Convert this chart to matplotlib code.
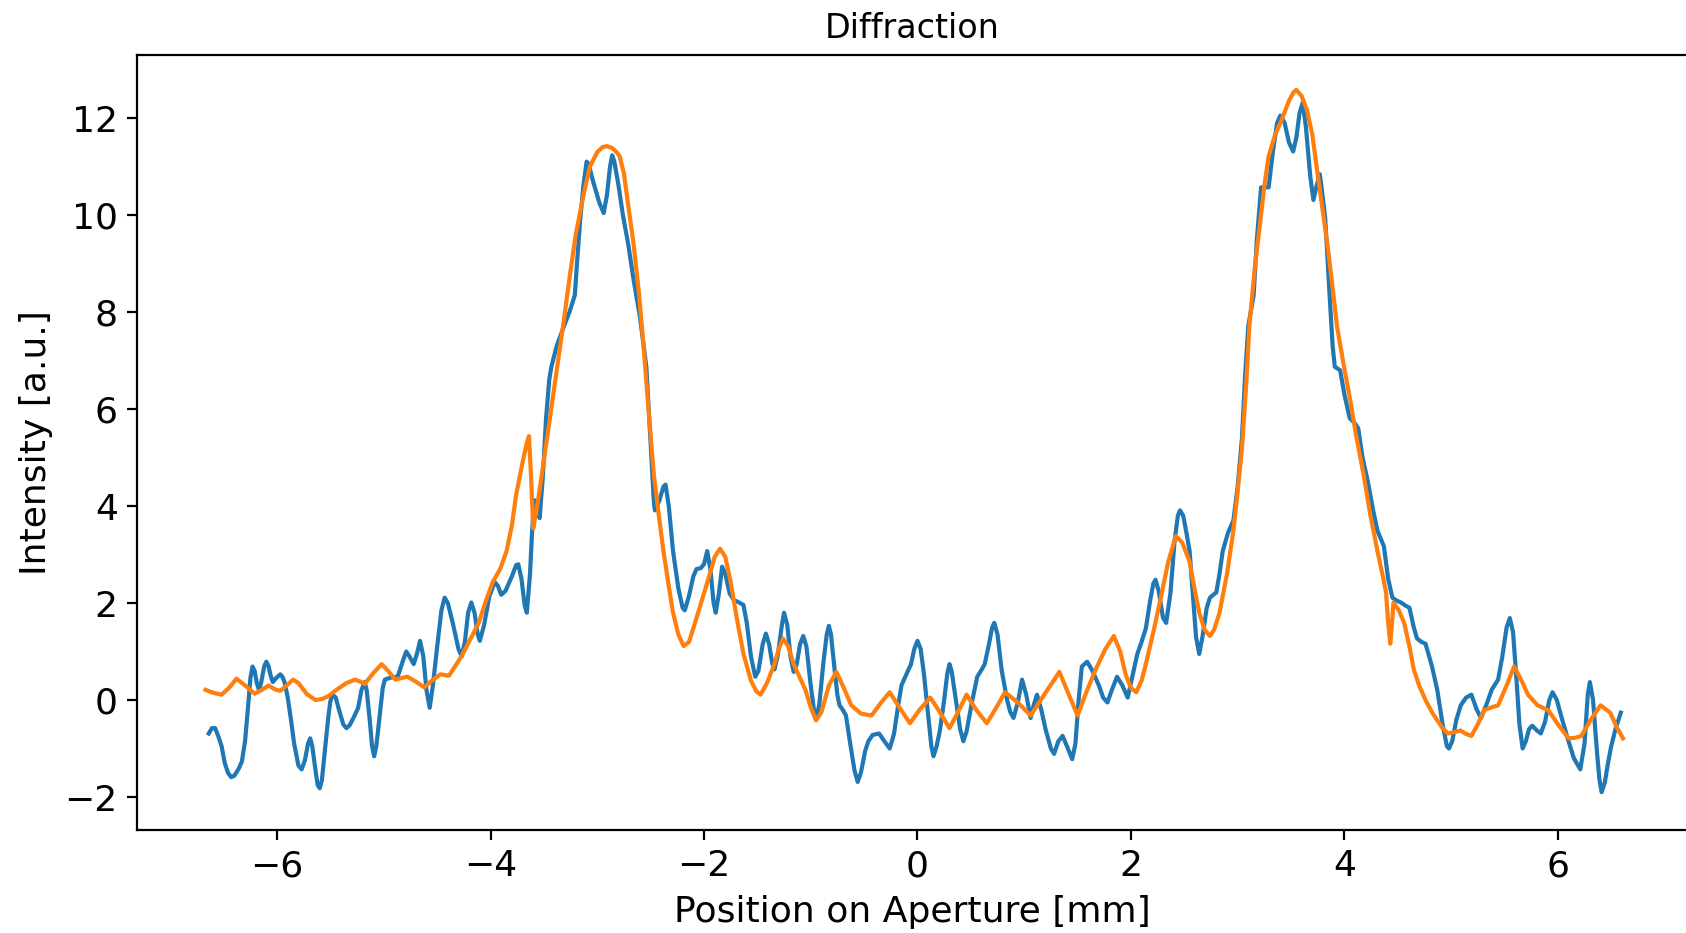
import matplotlib.pyplot as plt
import numpy as np

# measured intensity across the aperture
pos_meas = [-6.64, -6.61, -6.58, -6.55, -6.52, -6.49, -6.46, -6.43, -6.40, -6.36,
            -6.33, -6.30, -6.27, -6.25, -6.23, -6.21, -6.19, -6.17, -6.15, -6.12,
            -6.10, -6.08, -6.06, -6.04, -6.01, -5.97, -5.95, -5.93, -5.90, -5.87,
            -5.84, -5.80, -5.77, -5.74, -5.71, -5.69, -5.67, -5.64, -5.62, -5.60,
            -5.58, -5.55, -5.52, -5.50, -5.48, -5.45, -5.42, -5.38, -5.35, -5.32,
            -5.28, -5.24, -5.21, -5.18, -5.16, -5.13, -5.11, -5.09, -5.07, -5.04,
            -5.01, -4.99, -4.94, -4.87, -4.83, -4.79, -4.76, -4.72, -4.69, -4.66,
            -4.63, -4.60, -4.57, -4.54, -4.50, -4.46, -4.43, -4.40, -4.35, -4.30,
            -4.27, -4.24, -4.21, -4.18, -4.15, -4.12, -4.10, -4.06, -4.01, -3.96,
            -3.93, -3.90, -3.86, -3.80, -3.76, -3.74, -3.71, -3.68, -3.66, -3.63,
            -3.61, -3.59, -3.56, -3.54, -3.51, -3.48, -3.45, -3.43, -3.38, -3.31,
            -3.26, -3.21, -3.19, -3.16, -3.13, -3.10, -3.08, -3.04, -2.98, -2.94,
            -2.91, -2.88, -2.86, -2.84, -2.80, -2.76, -2.71, -2.66, -2.60, -2.54,
            -2.50, -2.47, -2.46, -2.42, -2.38, -2.36, -2.33, -2.29, -2.24, -2.20,
            -2.18, -2.14, -2.10, -2.07, -2.03, -2.00, -1.97, -1.94, -1.91, -1.89,
            -1.86, -1.83, -1.80, -1.76, -1.72, -1.68, -1.63, -1.60, -1.56, -1.52,
            -1.49, -1.45, -1.42, -1.39, -1.36, -1.34, -1.31, -1.27, -1.25, -1.22,
            -1.19, -1.16, -1.13, -1.10, -1.07, -1.04, -1.00, -0.97, -0.95, -0.92,
            -0.88, -0.85, -0.83, -0.81, -0.78, -0.75, -0.73, -0.70, -0.67, -0.63,
            -0.59, -0.56, -0.53, -0.49, -0.46, -0.42, -0.36, -0.31, -0.26, -0.22,
            -0.18, -0.15, -0.10, -0.06, -0.03, 0.00, 0.03, 0.06, 0.10, 0.13,
            0.15, 0.18, 0.21, 0.25, 0.28, 0.30, 0.32, 0.36, 0.40, 0.43,
            0.46, 0.51, 0.56, 0.60, 0.63, 0.67, 0.70, 0.72, 0.75, 0.79,
            0.84, 0.87, 0.90, 0.94, 0.98, 1.02, 1.06, 1.09, 1.12, 1.16,
            1.20, 1.25, 1.28, 1.32, 1.36, 1.40, 1.45, 1.48, 1.51, 1.54,
            1.59, 1.64, 1.70, 1.74, 1.78, 1.82, 1.87, 1.92, 1.97, 2.01,
            2.06, 2.10, 2.14, 2.18, 2.21, 2.23, 2.26, 2.30, 2.33, 2.37,
            2.41, 2.44, 2.46, 2.49, 2.52, 2.55, 2.58, 2.61, 2.64, 2.67,
            2.71, 2.74, 2.80, 2.83, 2.86, 2.91, 2.96, 3.00, 3.04, 3.07,
            3.10, 3.15, 3.18, 3.22, 3.29, 3.33, 3.37, 3.40, 3.44, 3.48,
            3.52, 3.55, 3.58, 3.61, 3.64, 3.68, 3.71, 3.74, 3.77, 3.79,
            3.82, 3.86, 3.89, 3.91, 3.96, 4.00, 4.05, 4.10, 4.13, 4.17,
            4.22, 4.27, 4.31, 4.37, 4.41, 4.45, 4.49, 4.53, 4.57, 4.61,
            4.65, 4.68, 4.72, 4.76, 4.82, 4.87, 4.92, 4.96, 4.98, 5.01,
            5.05, 5.09, 5.14, 5.19, 5.24, 5.28, 5.33, 5.38, 5.44, 5.48,
            5.52, 5.55, 5.58, 5.61, 5.64, 5.67, 5.70, 5.73, 5.76, 5.80,
            5.84, 5.88, 5.92, 5.95, 5.99, 6.04, 6.10, 6.15, 6.21, 6.25,
            6.28, 6.30, 6.33, 6.35, 6.37, 6.39, 6.41, 6.44, 6.47, 6.50,
            6.54, 6.59]
int_meas = [-0.69, -0.58, -0.58, -0.75, -0.95, -1.30, -1.50, -1.59, -1.56, -1.42,
            -1.27, -0.85, -0.10, 0.45, 0.69, 0.60, 0.35, 0.21, 0.35, 0.70,
            0.79, 0.70, 0.50, 0.37, 0.45, 0.53, 0.48, 0.37, 0.05, -0.40,
            -0.90, -1.35, -1.43, -1.25, -0.90, -0.79, -0.95, -1.45, -1.75, -1.82,
            -1.65, -1.00, -0.35, -0.02, 0.11, 0.05, -0.20, -0.50, -0.58, -0.52,
            -0.35, -0.16, 0.20, 0.37, 0.20, -0.45, -0.95, -1.16, -0.95, -0.35,
            0.25, 0.42, 0.46, 0.48, 0.75, 1.00, 0.90, 0.74, 0.95, 1.22,
            0.90, 0.20, -0.16, 0.30, 1.10, 1.85, 2.11, 2.00, 1.55, 1.05,
            0.90, 1.20, 1.80, 2.01, 1.80, 1.35, 1.22, 1.55, 2.15, 2.43,
            2.35, 2.17, 2.25, 2.55, 2.78, 2.80, 2.50, 1.95, 1.80, 2.60,
            3.50, 4.12, 3.85, 3.75, 4.60, 5.80, 6.60, 6.87, 7.30, 7.72,
            8.00, 8.35, 9.00, 9.90, 10.60, 11.10, 11.05, 10.70, 10.25, 10.04,
            10.40, 11.00, 11.23, 11.10, 10.60, 10.00, 9.40, 8.67, 7.90, 6.87,
            5.30, 4.10, 3.91, 4.10, 4.40, 4.44, 4.00, 3.07, 2.30, 1.90,
            1.85, 2.15, 2.55, 2.70, 2.72, 2.80, 3.07, 2.70, 2.00, 1.80,
            2.20, 2.75, 2.60, 2.20, 2.06, 2.02, 1.96, 1.60, 0.90, 0.48,
            0.60, 1.15, 1.37, 1.15, 0.75, 0.63, 0.90, 1.55, 1.80, 1.55,
            0.90, 0.58, 0.75, 1.15, 1.32, 1.10, 0.30, -0.20, -0.37, -0.10,
            0.80, 1.35, 1.53, 1.35, 0.70, 0.10, -0.11, -0.20, -0.32, -0.90,
            -1.45, -1.69, -1.50, -1.05, -0.85, -0.72, -0.69, -0.85, -1.00, -0.70,
            -0.10, 0.30, 0.55, 0.74, 1.05, 1.22, 1.05, 0.55, -0.30, -0.95,
            -1.16, -0.95, -0.63, 0.00, 0.55, 0.74, 0.60, 0.00, -0.60, -0.85,
            -0.65, -0.05, 0.48, 0.62, 0.74, 1.15, 1.50, 1.59, 1.35, 0.60,
            0.00, -0.25, -0.37, -0.05, 0.42, 0.10, -0.37, -0.10, 0.11, -0.20,
            -0.60, -1.00, -1.11, -0.85, -0.74, -0.95, -1.22, -0.90, 0.00, 0.69,
            0.79, 0.60, 0.30, 0.05, -0.05, 0.20, 0.48, 0.30, 0.05, 0.45,
            0.95, 1.20, 1.48, 2.05, 2.40, 2.48, 2.25, 1.70, 1.59, 2.20,
            3.30, 3.80, 3.91, 3.80, 3.45, 3.07, 2.20, 1.30, 0.95, 1.30,
            1.90, 2.11, 2.22, 2.60, 3.07, 3.45, 3.70, 4.40, 5.39, 6.70,
            7.72, 8.35, 9.50, 10.57, 10.57, 11.30, 11.90, 12.05, 11.90, 11.50,
            11.31, 11.60, 12.10, 12.32, 11.80, 10.80, 10.31, 10.60, 10.84, 10.50,
            9.94, 8.40, 7.30, 6.87, 6.80, 6.30, 5.81, 5.70, 5.60, 5.00,
            4.50, 3.90, 3.49, 3.17, 2.50, 2.11, 2.05, 2.01, 1.95, 1.90,
            1.50, 1.27, 1.20, 1.16, 0.70, 0.21, -0.50, -0.95, -1.00, -0.85,
            -0.40, -0.11, 0.05, 0.11, -0.20, -0.37, -0.10, 0.21, 0.42, 0.90,
            1.50, 1.69, 1.40, 0.50, -0.50, -1.00, -0.85, -0.60, -0.53, -0.62,
            -0.69, -0.45, 0.00, 0.16, 0.00, -0.40, -0.85, -1.20, -1.43, -0.90,
            0.10, 0.37, 0.00, -0.60, -1.16, -1.65, -1.90, -1.70, -1.30, -0.95,
            -0.60, -0.26]

# fitted diffraction profile
pos_fit = [-6.67, -6.60, -6.52, -6.45, -6.38, -6.30, -6.21, -6.15, -6.08, -6.02,
           -5.97, -5.91, -5.85, -5.80, -5.72, -5.64, -5.58, -5.52, -5.45, -5.35,
           -5.27, -5.22, -5.18, -5.10, -5.02, -4.96, -4.89, -4.84, -4.78, -4.70,
           -4.62, -4.55, -4.47, -4.39, -4.33, -4.26, -4.19, -4.11, -4.05, -3.98,
           -3.91, -3.85, -3.80, -3.76, -3.70, -3.66, -3.64, -3.62, -3.60, -3.57,
           -3.54, -3.49, -3.43, -3.38, -3.32, -3.26, -3.20, -3.13, -3.07, -3.00,
           -2.95, -2.91, -2.86, -2.82, -2.79, -2.75, -2.71, -2.66, -2.61, -2.57,
           -2.52, -2.47, -2.42, -2.38, -2.33, -2.29, -2.24, -2.19, -2.14, -2.07,
           -2.00, -1.94, -1.90, -1.85, -1.80, -1.75, -1.69, -1.63, -1.56, -1.51,
           -1.47, -1.41, -1.34, -1.30, -1.26, -1.21, -1.16, -1.10, -1.05, -1.00,
           -0.95, -0.90, -0.83, -0.76, -0.69, -0.62, -0.53, -0.43, -0.34, -0.26,
           -0.17, -0.07, 0.02, 0.12, 0.21, 0.30, 0.38, 0.46, 0.55, 0.65,
           0.74, 0.82, 0.94, 1.06, 1.20, 1.33, 1.42, 1.50, 1.58, 1.67,
           1.76, 1.84, 1.90, 1.95, 2.00, 2.05, 2.10, 2.14, 2.21, 2.27,
           2.35, 2.42, 2.48, 2.55, 2.60, 2.64, 2.69, 2.74, 2.78, 2.83,
           2.90, 2.96, 3.00, 3.04, 3.08, 3.11, 3.16, 3.21, 3.25, 3.29,
           3.35, 3.41, 3.48, 3.52, 3.55, 3.60, 3.65, 3.70, 3.74, 3.79,
           3.84, 3.89, 3.93, 3.99, 4.05, 4.11, 4.18, 4.24, 4.31, 4.36,
           4.39, 4.41, 4.43, 4.45, 4.46, 4.51, 4.56, 4.61, 4.65, 4.70,
           4.76, 4.82, 4.87, 4.92, 4.97, 5.03, 5.09, 5.14, 5.19, 5.25,
           5.31, 5.38, 5.44, 5.52, 5.59, 5.66, 5.72, 5.81, 5.91, 6.00,
           6.10, 6.16, 6.22, 6.31, 6.40, 6.49, 6.55, 6.61]
int_fit = [0.21, 0.15, 0.11, 0.25, 0.44, 0.30, 0.13, 0.20, 0.30, 0.22,
           0.19, 0.30, 0.42, 0.35, 0.12, 0.00, 0.02, 0.08, 0.20, 0.35,
           0.42, 0.38, 0.33, 0.55, 0.74, 0.60, 0.42, 0.45, 0.48, 0.38,
           0.26, 0.40, 0.53, 0.50, 0.70, 0.95, 1.25, 1.59, 2.00, 2.43,
           2.70, 3.07, 3.60, 4.23, 4.90, 5.30, 5.44, 4.60, 3.54, 3.90,
           4.33, 5.10, 6.03, 6.80, 7.72, 8.70, 9.62, 10.40, 10.99, 11.30,
           11.40, 11.42, 11.38, 11.30, 11.21, 10.85, 10.20, 9.41, 8.40, 7.40,
           6.00, 4.65, 3.75, 3.07, 2.35, 1.80, 1.35, 1.11, 1.20, 1.69,
           2.20, 2.64, 2.95, 3.12, 2.95, 2.43, 1.65, 0.95, 0.40, 0.18,
           0.11, 0.35, 0.74, 1.05, 1.27, 1.10, 0.74, 0.45, 0.21, -0.15,
           -0.42, -0.25, 0.30, 0.58, 0.25, -0.11, -0.28, -0.32, -0.05, 0.16,
           -0.15, -0.48, -0.20, 0.05, -0.25, -0.58, -0.25, 0.11, -0.20, -0.48,
           -0.15, 0.16, -0.05, -0.32, 0.15, 0.58, 0.10, -0.32, 0.15, 0.63,
           1.05, 1.32, 1.00, 0.53, 0.25, 0.16, 0.40, 0.74, 1.40, 2.01,
           2.85, 3.38, 3.25, 2.85, 2.25, 1.80, 1.45, 1.32, 1.45, 1.80,
           2.60, 3.49, 4.30, 5.18, 6.50, 7.72, 8.90, 9.83, 10.60, 11.21,
           11.65, 11.95, 12.35, 12.52, 12.58, 12.45, 12.16, 11.65, 10.99, 10.20,
           9.41, 8.50, 7.72, 6.95, 6.24, 5.45, 4.65, 3.85, 3.07, 2.55,
           2.22, 1.60, 1.16, 1.70, 2.01, 1.85, 1.59, 1.10, 0.63, 0.30,
           0.00, -0.25, -0.42, -0.58, -0.69, -0.66, -0.63, -0.70, -0.74, -0.50,
           -0.21, -0.15, -0.11, 0.30, 0.69, 0.40, 0.11, -0.11, -0.21, -0.50,
           -0.79, -0.78, -0.74, -0.40, -0.11, -0.26, -0.55, -0.79]

fig = plt.figure(figsize=(8.43, 4.665), dpi=200)
ax = fig.add_axes([0.0814, 0.1104, 0.9197, 0.8307])

ax.plot(pos_meas, int_meas)
ax.plot(pos_fit, int_fit)

ax.set_xlim(-7.31, 7.218)
ax.set_ylim(-2.68, 13.30)
ax.set_xticks(np.arange(-6, 7, 2))
ax.set_yticks(np.arange(-2, 13, 2))
ax.tick_params(labelsize=13)

ax.set_title('Diffraction', fontsize=12)
ax.set_xlabel('Position on Aperture [mm]', fontsize=13)
ax.set_ylabel('Intensity [a.u.]', fontsize=13)

plt.savefig('out.png', dpi=200)
